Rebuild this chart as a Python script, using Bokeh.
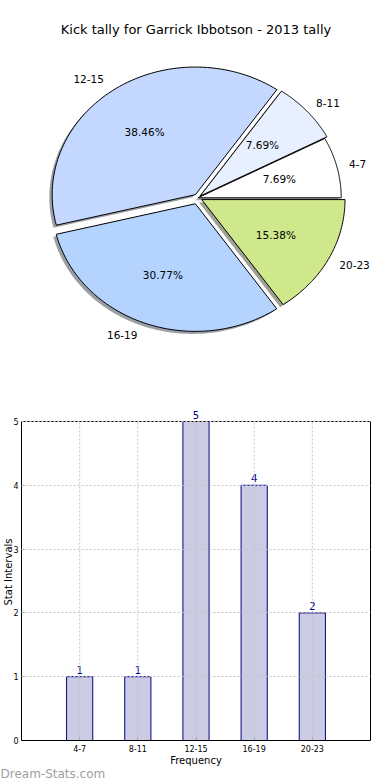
import math
import numpy as np
from bokeh.plotting import figure
from bokeh.layouts import column
from bokeh.models import Range1d, FixedTicker, LabelSet, Title, ColumnDataSource
from bokeh.core.properties import value
from bokeh.embed import file_html
from bokeh.resources import INLINE

# ---------------- data ----------------
title = "Kick tally for Garrick Ibbotson - 2013 tally"
categories = ["4-7", "8-11", "12-15", "16-19", "20-23"]
counts = [1, 1, 5, 4, 2]
pie_colors = ["#ffffff", "#e8f0ff", "#c4d8ff", "#b4d4ff", "#d0e88c"]
explode = [0.0, 0.02, 0.03, 0.05, 0.03]
y_ticks = [0, 1, 2, 3, 4, 5]
x_label = "Frequency"
y_label = "Stat Intervals"
watermark = "Dream-Stats.com"

FONT = "DejaVu Sans"

# ---------------- layout constants (page px) ----------------
W = 390
H1 = 395
H2 = 385
FL, FR = 21, 370          # shared frame left/right (column aligns frames)
CX, CY = 197.4, 197.3     # pie centre
RX, RY = 143.3, 127.6     # pie radii

total = float(sum(counts))
fracs = [c / total for c in counts]

pie = figure(width=W, height=H1, output_backend="svg", toolbar_location=None,
             x_range=Range1d(FL, FR), y_range=Range1d(H1, 39),
             x_axis_type=None, y_axis_type=None,
             min_border_left=FL, min_border_right=W - FR, min_border_bottom=0, min_border_top=39)
pie.outline_line_color = None
pie.grid.visible = False
pie.title.text = title
pie.title.align = "center"
pie.title.text_font = FONT
pie.title.text_font_size = "13px"
pie.title.text_font_style = "normal"
pie.title.text_color = "#000000"
pie.title.standoff = 6

wx, wy, sx, sy, shcol = [], [], [], [], []
lab_x, lab_y, lab_t, lab_al = [], [], [], []
pct_x, pct_y, pct_t = [], [], []
start = 0.0
for i, f in enumerate(fracs):
    t0 = start
    t1 = start + f * 2 * math.pi
    mid = (t0 + t1) / 2
    cx = CX + explode[i] * RX * math.cos(mid)
    cy = CY - explode[i] * RY * math.sin(mid)
    ts = np.linspace(t0, t1, 80)
    xs = [cx] + list(cx + RX * np.cos(ts)) + [cx]
    ys = [cy] + list(cy - RY * np.sin(ts)) + [cy]
    wx.append(xs)
    wy.append(ys)
    sx.append([x - 0.02 * RX for x in xs])
    sy.append([y + 0.02 * RY for y in ys])
    h = pie_colors[i].lstrip("#")
    r, g, b = (int(h[k:k + 2], 16) for k in (0, 2, 4))
    shcol.append("#%02x%02x%02x" % (int(r * 0.3), int(g * 0.3), int(b * 0.3)))
    lab_x.append(cx + 1.1 * RX * math.cos(mid))
    lab_y.append(cy - 1.1 * RY * math.sin(mid))
    lab_t.append(categories[i])
    lab_al.append("left" if math.cos(mid) > 0 else "right")
    pct_x.append(cx + 0.6 * RX * math.cos(mid))
    pct_y.append(cy - 0.6 * RY * math.sin(mid))
    pct_t.append("%.2f%%" % (f * 100))
    start = t1

pie.patches(sx, sy, fill_color=shcol, fill_alpha=0.5, line_color=None)
pie.patches(wx, wy, fill_color=pie_colors, line_color="#000000", line_width=1)
pie.text(x=lab_x, y=lab_y, text=lab_t, text_align=lab_al, text_baseline="middle",
         x_offset=-2, text_font=value(FONT), text_font_size="10.5px", text_color="#000000")
pie.text(x=pct_x, y=pct_y, text=pct_t, text_align="center", text_baseline="middle",
         x_offset=-2, text_font=value(FONT), text_font_size="10.5px", text_color="#000000")

# ---------------- bars ----------------
xpos = [i + 1 for i in range(len(categories))]
xmax = len(categories) + 1
ymax = max(y_ticks)
BT, BB = 421, 740          # page y of value ymax and of 0
FT = 403                   # frame top (room for value labels)
src = ColumnDataSource(dict(x=xpos, top=counts, lab=[str(c) for c in counts]))

bar = figure(width=W, height=H2, output_backend="svg", toolbar_location=None,
             x_range=Range1d(0, xmax),
             y_range=Range1d(0, ymax * (BB - FT) / (BB - BT)),
             min_border_left=FL, min_border_right=W - FR,
             min_border_top=FT - H1, min_border_bottom=H1 + H2 - BB)
bar.outline_line_color = None
bar.xgrid.visible = False
bar.ygrid.grid_line_color = "#c4c4c4"
bar.ygrid.grid_line_dash = "2 2"
bar.ygrid.level = "overlay"
bar.vbar(x="x", top="top", width=0.45, source=src, fill_color="#cbcce3",
         line_color="#00008b", line_width=1)
bar.segment(x0=xpos, y0=[0] * len(xpos), x1=xpos, y1=[ymax] * len(xpos),
            line_color="#c4c4c4", line_dash="2 2", line_width=1, level="overlay")
bar.quad(left=[0], right=[xmax], bottom=[0], top=[ymax], fill_color=None,
         line_color="#000000", line_width=1, level="overlay")
bar.add_layout(LabelSet(x="x", y="top", text="lab", source=src, text_align="center",
                        text_baseline="bottom", y_offset=3, text_color="#00008b",
                        text_font=value(FONT), text_font_size="10px"))

bar.xaxis.ticker = FixedTicker(ticks=xpos)
bar.xaxis.major_label_overrides = {x: c for x, c in zip(xpos, categories)}
bar.yaxis.ticker = FixedTicker(ticks=y_ticks)
bar.xaxis.axis_label = x_label
bar.yaxis.axis_label = y_label
for ax in (bar.xaxis, bar.yaxis):
    ax.axis_line_color = None
    ax.major_tick_in = 3
    ax.major_tick_out = 0
    ax.major_tick_line_color = "#888888"
    ax.minor_tick_line_color = None
    ax.major_label_text_font = FONT
    ax.major_label_text_font_size = "8px"
    ax.major_label_text_color = "#000000"
    ax.axis_label_text_font = FONT
    ax.axis_label_text_font_size = "10px"
    ax.axis_label_text_font_style = "normal"
    ax.axis_label_text_color = "#000000"
bar.xaxis.major_label_standoff = 4
bar.xaxis.axis_label_standoff = 0
bar.yaxis.major_label_standoff = 3
bar.yaxis.axis_label_standoff = -4
bar.yaxis.axis_label_text_line_height = 0.4

bar.add_layout(Title(text=watermark, align="left", offset=-FL, text_color="#a0a0a0",
                     text_font=FONT, text_font_size="12px", text_font_style="normal",
                     standoff=-7), "below")

layout = column(pie, bar)
open("out.html", "w").write(file_html(layout, INLINE))
